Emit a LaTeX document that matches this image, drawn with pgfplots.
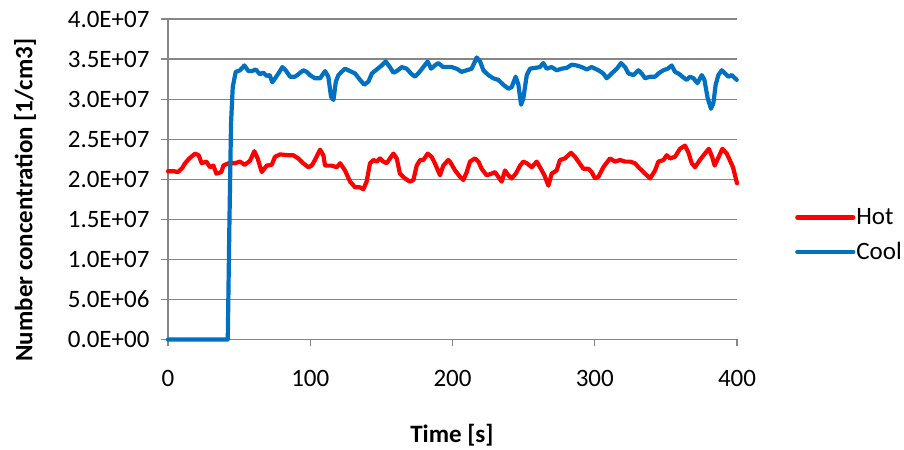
\documentclass[border=0pt]{standalone}
\usepackage{pgfplots}
\pgfplotsset{compat=1.18}
\usepackage{fontspec}
\setmainfont{Carlito}
\definecolor{hotred}{RGB}{255,0,0}
\definecolor{coolblue}{RGB}{0,112,192}
\definecolor{gridgray}{RGB}{134,134,134}
\begin{document}
\begin{tikzpicture}
\begin{axis}[
  scale only axis,
  width=569pt, height=320.5pt,
  xmin=0, xmax=400, ymin=0, ymax=4e7,
  axis lines=left,
  axis line style={-, gridgray, line width=1.2pt},
  xtick={0,100,200,300,400},
  xticklabels={0,100,200,300,400},
  ytick={0,5e6,1e7,1.5e7,2e7,2.5e7,3e7,3.5e7,4e7},
  yticklabels={0.0E+00,5.0E+06,1.0E+07,1.5E+07,2.0E+07,2.5E+07,3.0E+07,3.5E+07,4.0E+07},
  scaled y ticks=false,
  tick align=outside,
  major tick length=7pt,
  tick style={gridgray, line width=1.2pt},
  ymajorgrids,
  grid style={gridgray, line width=1.2pt},
  ticklabel style={font=\fontsize{25}{30}\selectfont, text=black},
  xticklabel style={yshift=-20pt},
  yticklabel style={xshift=-8pt},
  xlabel={Time [s]},
  ylabel={Number concentration [1/cm3]},
  label style={font=\bfseries\fontsize{25}{30}\selectfont},
  xlabel style={at={(rel axis cs:0.499,-0.298)}, anchor=center},
  ylabel style={at={(rel axis cs:-0.2513,0.435)}, anchor=center},
  clip=false,
  legend style={at={(rel axis cs:1.1019,0.326)}, anchor=west, draw=none, fill=none,
    font=\fontsize{25}{30}\selectfont, row sep=14pt, inner sep=0pt,
    nodes={inner sep=1pt}},
  legend cell align=left,
  legend image code/.code={\draw[#1] (0pt,0pt) -- (56pt,0pt);},
  every axis plot/.append style={line width=4.2pt, line join=round, line cap=round},
]
\path[draw=none] (rel axis cs:-0.2953,-0.3385) rectangle (rel axis cs:1.2935,1.0593);
\addplot[hotred, mark=none] coordinates {
(0,2.10e7)(4,2.10e7)(7,2.09e7)(10,2.14e7)(12,2.20e7)(15,2.26e7)(19,2.32e7)(21.5,2.30e7)(23.7,2.20e7)(27,2.22e7)(29.5,2.15e7)(31.9,2.17e7)(34,2.07e7)(37.5,2.09e7)(38.9,2.17e7)(42.4,2.20e7)(47,2.20e7)(50.6,2.22e7)(54,2.18e7)(57.6,2.23e7)(60.7,2.35e7)(63,2.26e7)(65.9,2.09e7)(69.4,2.17e7)(72.9,2.18e7)(75.2,2.28e7)(78.7,2.31e7)(84.6,2.30e7)(88,2.30e7)(91.6,2.26e7)(95,2.20e7)(98.7,2.15e7)(101,2.17e7)(103.3,2.24e7)(106.9,2.37e7)(109.2,2.30e7)(110.4,2.17e7)(115,2.17e7)(118.6,2.15e7)(121,2.20e7)(124.4,2.11e7)(128,1.97e7)(131.5,1.90e7)(134.9,1.90e7)(137.3,1.875e7)(139.6,1.97e7)(142,2.20e7)(144.4,2.24e7)(146.7,2.22e7)(149,2.26e7)(151.3,2.22e7)(153.7,2.20e7)(158.4,2.32e7)(160.8,2.26e7)(163,2.07e7)(166.6,2.01e7)(170,1.97e7)(172.5,1.99e7)(174.8,2.17e7)(177.2,2.24e7)(179.5,2.24e7)(182.5,2.32e7)(185.3,2.28e7)(187.6,2.20e7)(191.2,2.05e7)(193.5,2.17e7)(197,2.24e7)(198.2,2.22e7)(201.8,2.11e7)(205.3,2.03e7)(207.6,1.99e7)(210,2.09e7)(212.3,2.22e7)(215.8,2.26e7)(218.2,2.22e7)(220.5,2.13e7)(224,2.05e7)(227.5,2.07e7)(229.8,2.09e7)(232.2,2.03e7)(234.6,1.97e7)(236.9,2.11e7)(239.2,2.05e7)(241.6,2.01e7)(244.5,2.07e7)(247.5,2.17e7)(249.8,2.22e7)(252.2,2.20e7)(255.7,2.15e7)(259.2,2.22e7)(261.5,2.15e7)(264.6,2.05e7)(267.4,1.92e7)(269.7,2.07e7)(273.2,2.11e7)(275.5,2.24e7)(279,2.26e7)(283.3,2.33e7)(286.1,2.28e7)(288.5,2.22e7)(292,2.13e7)(295.5,2.13e7)(297.8,2.09e7)(300.2,2.01e7)(302.6,2.03e7)(306,2.15e7)(310.7,2.26e7)(314.2,2.22e7)(317.7,2.24e7)(321.3,2.22e7)(324.8,2.22e7)(328.3,2.20e7)(330.7,2.15e7)(334.2,2.09e7)(338.9,2.01e7)(342.4,2.11e7)(344.7,2.22e7)(348.3,2.24e7)(350.6,2.30e7)(352.9,2.26e7)(356.4,2.28e7)(359.9,2.38e7)(363.4,2.42e7)(365.7,2.34e7)(368.2,2.20e7)(370.5,2.15e7)(373.9,2.24e7)(377.4,2.32e7)(380.2,2.38e7)(382.5,2.28e7)(384.3,2.17e7)(386.6,2.26e7)(389.7,2.38e7)(392.8,2.32e7)(397.2,2.15e7)(400,1.95e7)
};
\addlegendentry{Hot}
\addplot[coolblue, mark=none] coordinates {
(0,0)(42,0)(43.2,1.5e7)(44.3,2.7e7)(45.5,3.15e7)(47.6,3.34e7)(50.6,3.36e7)(53.7,3.42e7)(56.5,3.35e7)(59,3.35e7)(61.6,3.37e7)(64.7,3.31e7)(67,3.33e7)(69.4,3.29e7)(71.5,3.30e7)(73.3,3.21e7)(75.7,3.27e7)(77.6,3.32e7)(80.4,3.40e7)(82.7,3.36e7)(85.8,3.28e7)(89.3,3.28e7)(91.6,3.31e7)(95.1,3.36e7)(97.5,3.34e7)(99.8,3.30e7)(103.3,3.26e7)(106.9,3.26e7)(110.4,3.35e7)(112.7,3.28e7)(114.6,3.03e7)(116.3,2.99e7)(118,3.22e7)(119.8,3.30e7)(122,3.34e7)(124.4,3.38e7)(128,3.35e7)(131.5,3.32e7)(135,3.24e7)(138,3.18e7)(140.9,3.22e7)(143.3,3.32e7)(146.7,3.37e7)(150.2,3.42e7)(153,3.47e7)(156,3.40e7)(158.4,3.33e7)(160.8,3.35e7)(164.3,3.40e7)(167.8,3.38e7)(170.8,3.32e7)(173.6,3.28e7)(175.9,3.32e7)(179.5,3.40e7)(182.5,3.47e7)(184.9,3.38e7)(187.6,3.42e7)(190,3.45e7)(193.5,3.40e7)(196,3.40e7)(199.4,3.40e7)(202.9,3.38e7)(206.4,3.34e7)(210,3.36e7)(213.5,3.38e7)(217,3.52e7)(219.4,3.47e7)(221.7,3.36e7)(225.2,3.30e7)(228.7,3.26e7)(232.2,3.24e7)(235.7,3.18e7)(239.3,3.13e7)(241.6,3.15e7)(244.4,3.28e7)(246.3,3.18e7)(248.2,2.93e7)(249.8,3.01e7)(252.2,3.30e7)(254.5,3.38e7)(258,3.39e7)(261.5,3.40e7)(263.8,3.45e7)(266.2,3.38e7)(269.7,3.40e7)(273.2,3.36e7)(276.8,3.38e7)(280.3,3.39e7)(283.8,3.43e7)(287.3,3.42e7)(290.8,3.40e7)(294.4,3.37e7)(297.8,3.40e7)(302.6,3.36e7)(306,3.32e7)(308.4,3.26e7)(311.9,3.32e7)(315.5,3.38e7)(318.5,3.45e7)(321.3,3.40e7)(323.7,3.32e7)(327.2,3.30e7)(330.7,3.36e7)(333,3.32e7)(335.4,3.26e7)(338.9,3.28e7)(342.4,3.28e7)(344.7,3.32e7)(348.2,3.36e7)(351.3,3.38e7)(354.1,3.42e7)(356.4,3.34e7)(358.8,3.32e7)(361.6,3.28e7)(364.6,3.24e7)(367,3.28e7)(369.4,3.26e7)(372.2,3.20e7)(375.2,3.30e7)(377.1,3.24e7)(379.4,3.01e7)(381.7,2.88e7)(383.4,2.95e7)(385,3.18e7)(386.9,3.30e7)(389.3,3.36e7)(391.6,3.32e7)(393.9,3.28e7)(396.3,3.30e7)(399.8,3.24e7)
};
\addlegendentry{Cool}
\end{axis}
\end{tikzpicture}
\end{document}
